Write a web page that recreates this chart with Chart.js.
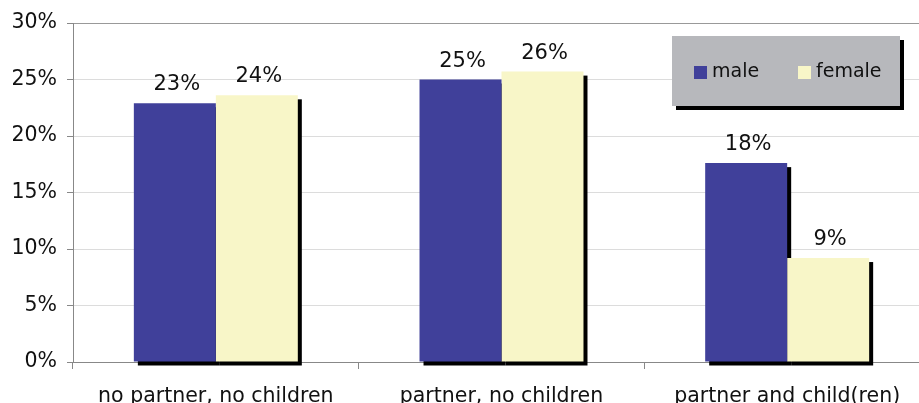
<!DOCTYPE html>
<html>
<head>
<meta charset="utf-8">
<script src="https://cdn.jsdelivr.net/npm/chart.js@4/dist/chart.umd.min.js"></script>
<style>
  html, body { margin: 0; padding: 0; background: #fff; overflow: hidden; }
  #wrap { width: 919px; height: 403px; overflow: hidden; }
</style>
</head>
<body>
<div id="wrap"><canvas id="chart" width="930" height="403"></canvas></div>
<script>
// --- Data ---
const categories = ['no partner, no children', 'partner, no children', 'partner and child(ren)'];
const maleValues = [22.9, 25.0, 17.6];
const femaleValues = [23.6, 25.7, 9.2];
const seriesNames = ['male', 'female'];
const yTicks = [0, 5, 10, 15, 20, 25, 30];

const MALE_COLOR = '#40409a';
const FEMALE_COLOR = '#f8f6c8';
const FONT = '"DejaVu Sans", Verdana, sans-serif';

// black drop shadow behind every bar
const barShadow = {
    id: 'barShadow',
    beforeDatasetsDraw(chart) {
        const ctx = chart.ctx;
        ctx.save();
        ctx.fillStyle = '#000';
        chart.data.datasets.forEach((ds, i) => {
            chart.getDatasetMeta(i).data.forEach(bar => {
                const p = bar.getProps(['x', 'y', 'base', 'width'], true);
                const left = p.x - p.width / 2;
                ctx.fillRect(left + 4, p.y + 4, p.width, p.base - p.y);
            });
        });
        ctx.restore();
    }
};

// percentage labels above bars
const valueLabels = {
    id: 'valueLabels',
    afterDatasetsDraw(chart) {
        const ctx = chart.ctx;
        ctx.save();
        ctx.font = '21px ' + FONT;
        ctx.fillStyle = '#111';
        ctx.textAlign = 'center';
        ctx.textBaseline = 'alphabetic';
        chart.data.datasets.forEach((ds, i) => {
            chart.getDatasetMeta(i).data.forEach((bar, j) => {
                const p = bar.getProps(['x', 'y'], true);
                ctx.fillText(Math.round(ds.data[j]) + '%', p.x + 2, p.y - 13);
            });
        });
        ctx.restore();
    }
};

// grey legend box with shadow, top right
const boxLegend = {
    id: 'boxLegend',
    afterDraw(chart) {
        const ctx = chart.ctx;
        const x = 672, y = 36, w = 228, h = 70;
        ctx.save();
        ctx.fillStyle = '#000';
        ctx.fillRect(x + 4, y + 4, w, h);
        ctx.fillStyle = '#b7b8bc';
        ctx.fillRect(x, y, w, h);
        ctx.font = '19px ' + FONT;
        ctx.textBaseline = 'middle';
        ctx.textAlign = 'left';
        const itemX = [694, 798];
        chart.data.datasets.forEach((ds, i) => {
            ctx.fillStyle = ds.backgroundColor;
            ctx.fillRect(itemX[i], 66, 13, 13);
            ctx.fillStyle = '#111';
            ctx.fillText(ds.label, itemX[i] + 18, 72);
        });
        ctx.restore();
    }
};

new Chart(document.getElementById('chart'), {
    type: 'bar',
    data: {
        labels: categories,
        datasets: [
            { label: seriesNames[0], data: maleValues, backgroundColor: MALE_COLOR },
            { label: seriesNames[1], data: femaleValues, backgroundColor: FEMALE_COLOR }
        ]
    },
    options: {
        responsive: false,
        devicePixelRatio: 1,
        animation: false,
        layout: { padding: { top: 23, right: 0, left: 0, bottom: 0 } },
        datasets: { bar: { categoryPercentage: 0.574, barPercentage: 1.0 } },
        plugins: {
            legend: { display: false },
            tooltip: { enabled: false }
        },
        scales: {
            x: {
                offset: true,
                grid: {
                    offset: true,
                    drawOnChartArea: false,
                    tickLength: 7,
                    tickColor: '#888'
                },
                border: { color: '#888' },
                ticks: {
                    color: '#111',
                    font: { family: FONT, size: 20.5 },
                    padding: 15,
                    maxRotation: 0
                },
                afterFit(scale) { scale.height = 41; }
            },
            y: {
                min: 0,
                max: 30,
                afterBuildTicks(scale) { scale.ticks = yTicks.map(v => ({ value: v })); },
                grid: {
                    color: ctx => (ctx.tick && ctx.tick.value === 30) ? '#999' : '#dcdcdc',
                    tickColor: '#888',
                    tickLength: 6
                },
                border: { color: '#888' },
                ticks: {
                    color: '#111',
                    font: { family: FONT, size: 20.5 },
                    padding: 10,
                    callback: v => v + '%'
                },
                afterFit(scale) { scale.width = 73; }
            }
        }
    },
    plugins: [barShadow, valueLabels, boxLegend]
});
</script>
</body>
</html>
